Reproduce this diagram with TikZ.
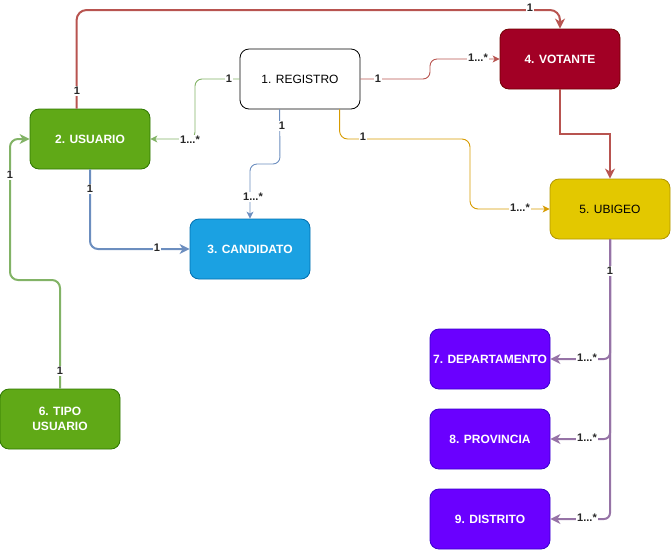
\documentclass[tikz,border=0pt]{standalone}
\usepackage{fontspec}
\setmainfont{Liberation Sans}
\usetikzlibrary{arrows.meta}

\definecolor{usugreen}{HTML}{60A917}
\definecolor{usugreenD}{HTML}{2D7600}
\definecolor{candblue}{HTML}{1BA1E2}
\definecolor{candblueD}{HTML}{006EAF}
\definecolor{votred}{HTML}{A20025}
\definecolor{votredD}{HTML}{6F0000}
\definecolor{ubiyel}{HTML}{E3C800}
\definecolor{ubiyelD}{HTML}{B09500}
\definecolor{geopurp}{HTML}{6A00FF}
\definecolor{geopurpD}{HTML}{3700CC}
\definecolor{lnred}{HTML}{B85450}
\definecolor{lngreen}{HTML}{82B366}
\definecolor{lnblue}{HTML}{6C8EBF}
\definecolor{lnorange}{HTML}{D79B00}
\definecolor{lnpurple}{HTML}{9673A6}

\tikzset{
  entity/.style={draw, rounded corners=9pt, minimum width=120pt, minimum height=60pt,
    inner sep=2pt, align=center, font=\fontsize{12}{15}\selectfont\bfseries, text=white, line width=0.8pt},
  plain/.style={font=\fontsize{12}{15}\selectfont, text=black},
  thickln/.style={line width=2pt, -{Stealth[length=10pt,width=10pt,inset=3pt]}},
  thinln/.style={line width=0.9pt, -{Stealth[length=7pt,width=7pt,inset=2pt]}},
  lbl/.style={fill=white, inner sep=1pt, font=\fontsize{11}{13}\selectfont\bfseries, text=black!85},
}

\begin{document}
\begin{tikzpicture}[x=1pt, y=-1pt]
\useasboundingbox (0,0) rectangle (671,550);

% entities
\node[entity, draw=black, fill=white, plain] (reg) at (300,79) {1. REGISTRO};
\node[entity, draw=usugreenD, fill=usugreen] (usu) at (90,139) {2. USUARIO};
\node[entity, draw=candblueD, fill=candblue] (cand) at (250,249) {3. CANDIDATO};
\node[entity, draw=votredD, fill=votred] (vot) at (560,59) {4. VOTANTE};
\node[entity, draw=ubiyelD, fill=ubiyel, plain] (ubi) at (610,209) {5. UBIGEO};
\node[entity, draw=usugreenD, fill=usugreen] (tipo) at (60,419) {6. TIPO\\USUARIO};
\node[entity, draw=geopurpD, fill=geopurp] (dep) at (490,359) {7. DEPARTAMENTO};
\node[entity, draw=geopurpD, fill=geopurp] (prov) at (490,439) {8. PROVINCIA};
\node[entity, draw=geopurpD, fill=geopurp] (dist) at (490,519) {9. DISTRITO};

% usuario -> votante (over the top)
\draw[thickln, lnred, rounded corners=10pt] ([xshift=47pt]usu.north west) |- (560,10) -- (vot.north);
% registro -> usuario
\draw[thinln, lngreen, rounded corners=7pt] (reg.west) -- (195,79) |- (usu.east);
% registro -> votante
\draw[thinln, lnred, rounded corners=7pt] (reg.east) -- (430,79) |- (vot.west);
% registro -> candidato
\draw[thinln, lnblue, rounded corners=7pt] ([xshift=40pt]reg.south west) -- (280,164) -| (cand.north);
% registro -> ubigeo
\draw[thinln, lnorange, rounded corners=8pt] ([xshift=100pt]reg.south west) |- (470,139) |- (ubi.west);
% usuario -> candidato
\draw[thickln, lnblue, rounded corners=8pt] (usu.south) |- (cand.west);
% tipo usuario -> usuario
\draw[thickln, lngreen, rounded corners=8pt] (tipo.north) |- (10,280) |- (usu.west);
% votante -> ubigeo
\draw[thickln, lnred] (vot.south) -- (560,134) -| (ubi.north);
% ubigeo -> departamento / provincia / distrito
\draw[thickln, lnpurple, rounded corners=6pt] (ubi.south) |- (dep.east);
\draw[thickln, lnpurple, rounded corners=6pt] (ubi.south) |- (prov.east);
\draw[thickln, lnpurple, rounded corners=6pt] (ubi.south) |- (dist.east);

% multiplicities
\node[lbl] (m1a) at (77,91) {1};
\node[lbl] (m1b) at (530,8) {1};
\node[lbl] (m2a) at (229,79) {1};
\node[lbl] (m2b) at (190,140) {1...*};
\node[lbl] (m3a) at (378,79) {1};
\node[lbl] (m3b) at (478,58) {1...*};
\node[lbl] (m4a) at (282,126) {1};
\node[lbl] (m4b) at (253,197) {1...*};
\node[lbl] (m5a) at (363,137) {1};
\node[lbl] (m5b) at (520,208) {1...*};
\node[lbl] (m6a) at (90,189) {1};
\node[lbl] (m6b) at (157,248) {1};
\node[lbl] (m7a) at (60,371) {1};
\node[lbl] (m7b) at (10,175) {1};
\node[lbl] (m9a) at (610,271) {1};
\node[lbl] (m9b) at (587,358) {1...*};
\node[lbl] (m9c) at (587,438) {1...*};
\node[lbl] (m9d) at (587,518) {1...*};
\end{tikzpicture}
\end{document}
